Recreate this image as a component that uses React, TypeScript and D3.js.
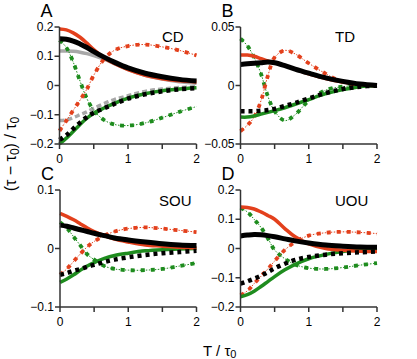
import React from "react";
import * as d3 from "d3";

const T = [0, 0.1, 0.2, 0.3, 0.4, 0.5, 0.65, 0.8, 1.0, 1.25, 1.5, 1.75, 2.0];

// Panel A (CD)
const aRedSolid = [0.193, 0.19, 0.18, 0.165, 0.145, 0.123, 0.095, 0.075, 0.054, 0.035, 0.023, 0.016, 0.012];
const aBlackSolid = [0.16, 0.158, 0.152, 0.142, 0.13, 0.116, 0.097, 0.08, 0.06, 0.042, 0.03, 0.021, 0.015];
const aGreySolid = [0.118, 0.118, 0.117, 0.114, 0.109, 0.102, 0.09, 0.075, 0.055, 0.035, 0.022, 0.013, 0.008];
const aRedDashDot = [-0.155, -0.12, -0.085, -0.05, -0.012, 0.035, 0.09, 0.12, 0.135, 0.14, 0.132, 0.12, 0.103];
const aGreenDashDot = [0.155, 0.13, 0.08, 0.015, -0.045, -0.085, -0.118, -0.133, -0.137, -0.128, -0.11, -0.09, -0.072];
const aBlackDotted = [-0.186, -0.17, -0.148, -0.127, -0.108, -0.093, -0.078, -0.063, -0.045, -0.03, -0.02, -0.013, -0.009];
const aGreenSolid = [-0.2, -0.18, -0.157, -0.133, -0.112, -0.095, -0.077, -0.061, -0.043, -0.028, -0.018, -0.012, -0.008];
const aGreyDashed = [-0.12, -0.118, -0.11, -0.1, -0.09, -0.078, -0.062, -0.048, -0.035, -0.02, -0.012, -0.007, -0.004];

// Panel B (TD)
const bRedSolid = [0.026, 0.026, 0.025, 0.023, 0.021, 0.0195, 0.017, 0.014, 0.01, 0.006, 0.003, 0.001, 0];
const bBlackSolid = [0.018, 0.0185, 0.019, 0.0195, 0.02, 0.0195, 0.017, 0.014, 0.0105, 0.0065, 0.0035, 0.0012, 0];
const bRedDashDot = [-0.039, -0.034, -0.027, -0.013, 0.008, 0.024, 0.03, 0.027, 0.019, 0.01, 0.003, 0.0005, 0];
const bGreenDashDot = [0.04, 0.034, 0.024, 0.01, -0.009, -0.022, -0.03, -0.025, -0.013, -0.004, -0.001, 0, 0];
const bBlackDotted = [-0.022, -0.022, -0.022, -0.0215, -0.021, -0.02, -0.0175, -0.015, -0.011, -0.0065, -0.003, -0.001, 0];
const bGreenSolid = [-0.027, -0.027, -0.026, -0.0245, -0.023, -0.0215, -0.019, -0.016, -0.012, -0.007, -0.0035, -0.001, 0];

// Panel C (SOU)
const cRedSolid = [0.06, 0.055, 0.049, 0.042, 0.035, 0.029, 0.022, 0.016, 0.011, 0.006, 0.004, 0.002, 0.001];
const cBlackSolid = [0.04, 0.038, 0.035, 0.032, 0.029, 0.026, 0.022, 0.018, 0.0145, 0.011, 0.008, 0.006, 0.005];
const cRedDashDot = [-0.045, -0.035, -0.022, -0.009, 0.003, 0.012, 0.022, 0.029, 0.034, 0.036, 0.034, 0.031, 0.028];
const cGreenDashDot = [0.045, 0.035, 0.02, 0.005, -0.01, -0.019, -0.03, -0.035, -0.037, -0.037, -0.035, -0.03, -0.025];
const cBlackDotted = [-0.045, -0.042, -0.038, -0.035, -0.031, -0.028, -0.023, -0.019, -0.015, -0.011, -0.008, -0.006, -0.004];
const cGreenSolid = [-0.058, -0.052, -0.045, -0.037, -0.03, -0.024, -0.017, -0.012, -0.008, -0.004, -0.002, -0.001, 0];

// Panel D (UOU)
const dRedSolid = [0.142, 0.14, 0.135, 0.125, 0.113, 0.1, 0.068, 0.04, 0.016, 0.0, -0.006, -0.009, -0.01];
const dBlackSolid = [0.043, 0.046, 0.048, 0.047, 0.044, 0.04, 0.033, 0.026, 0.019, 0.012, 0.008, 0.005, 0.004];
const dRedDashDot = [-0.16, -0.145, -0.12, -0.095, -0.07, -0.043, -0.005, 0.022, 0.044, 0.054, 0.057, 0.055, 0.051];
const dGreenDashDot = [0.14, 0.125, 0.1, 0.072, 0.035, -0.005, -0.035, -0.055, -0.067, -0.07, -0.065, -0.057, -0.05];
const dBlackDotted = [-0.12, -0.112, -0.103, -0.093, -0.081, -0.068, -0.052, -0.039, -0.029, -0.021, -0.016, -0.013, -0.01];
const dGreenSolid = [-0.165, -0.158, -0.146, -0.13, -0.113, -0.096, -0.073, -0.054, -0.035, -0.02, -0.01, -0.004, 0];

const xTicks = [0, 0.5, 1, 1.5, 2];
const xTickLabels = ["0", "", "1", "", "2"];
const yTicksA = [-0.2, -0.1, 0, 0.1, 0.2];
const yTickLabelsA = ["\u22120.2", "\u22120.1", "0", "0.1", "0.2"];
const yTicksB = [-0.05, 0, 0.05];
const yTickLabelsB = ["\u22120.05", "0", "0.05"];
const yTicksC = [-0.1, 0, 0.1];
const yTickLabelsC = ["\u22120.1", "0", "0.1"];
const yTicksD = [-0.2, -0.1, 0, 0.1, 0.2];
const yTickLabelsD = ["\u22120.2", "\u22120.1", "0", "0.1", "0.2"];

const RED = "#e3401c";
const GREEN = "#1e8c1e";
const GREY = "#a8a8a8";
const BLACK = "#000";
const AXIS = "#333";
const FONT = "'Liberation Sans', Arial, Helvetica, sans-serif";

type Series = { v: number[]; kind: string };

type PanelProps = {
  x0: number; x1: number; y0: number; y1: number;
  yDomain: [number, number];
  yTicks: number[]; yLabels: string[];
  letter: string; name: string; nameX: number; nameY: number;
  series: Series[];
};

function Panel(p: PanelProps) {
  const xs = d3.scaleLinear().domain([0, 2]).range([p.x0, p.x1]);
  const ys = d3.scaleLinear().domain(p.yDomain).range([p.y1, p.y0]);
  const line = d3.line<number>()
    .x((_, i) => xs(T[i]))
    .y((d) => ys(d))
    .curve(d3.curveCatmullRom.alpha(0.5));

  const renderSeries = (s: Series, i: number) => {
    const d = line(s.v) || "";
    switch (s.kind) {
      case "greySolid":
        return <path key={i} d={d} fill="none" stroke={GREY} strokeWidth={3.5} />;
      case "greyDashed":
        return <path key={i} d={d} fill="none" stroke={GREY} strokeWidth={3.5} strokeDasharray="5 3" />;
      case "redSolid":
        return <path key={i} d={d} fill="none" stroke={RED} strokeWidth={3.5} />;
      case "greenSolid":
        return <path key={i} d={d} fill="none" stroke={GREEN} strokeWidth={3.5} />;
      case "blackSolid":
        return <path key={i} d={d} fill="none" stroke={BLACK} strokeWidth={5} />;
      case "blackDotted":
        return <path key={i} d={d} fill="none" stroke={BLACK} strokeWidth={4.5} strokeDasharray="4 4" />;
      case "redDashDot":
      case "greenDashDot": {
        const c = s.kind === "redDashDot" ? RED : GREEN;
        return (
          <g key={i}>
            <path d={d} fill="none" stroke={c} strokeWidth={1} strokeDasharray="1.5 1.5" />
            <path d={d} fill="none" stroke={c} strokeWidth={3.8} strokeDasharray="4 6" />
          </g>
        );
      }
    }
    return null;
  };

  return (
    <g>
      {p.series.map(renderSeries)}
      <line x1={p.x0} x2={p.x0} y1={p.y0} y2={p.y1} stroke={AXIS} strokeWidth={1.5} />
      <line x1={p.x0} x2={p.x1} y1={p.y1} y2={p.y1} stroke={AXIS} strokeWidth={1.5} />
      {p.yTicks.map((t, i) => (
        <g key={"y" + i}>
          <line x1={p.x0 - 5} x2={p.x0} y1={ys(t)} y2={ys(t)} stroke={AXIS} strokeWidth={1.5} />
          <text x={p.x0 - 6} y={ys(t) + 4} textAnchor="end" fontSize={12} fontFamily={FONT} fill="#000">
            {p.yLabels[i]}
          </text>
        </g>
      ))}
      {xTicks.map((t, i) => (
        <g key={"x" + i}>
          <line x1={xs(t)} x2={xs(t)} y1={p.y1} y2={p.y1 + 5} stroke={AXIS} strokeWidth={1.5} />
          <text x={xs(t)} y={p.y1 + 19} textAnchor="middle" fontSize={12} fontFamily={FONT} fill="#000">
            {xTickLabels[i]}
          </text>
        </g>
      ))}
      <text x={p.x0 - 19} y={p.y0 - 10} fontSize={18} fontFamily={FONT} fill="#000">{p.letter}</text>
      <text x={p.nameX} y={p.nameY} fontSize={15} fontFamily={FONT} fill="#000">{p.name}</text>
    </g>
  );
}

export default function App() {
  const order = (gs: number[] | null, gd: number[] | null, gdd: number[], rdd: number[], gsol: number[], rs: number[], bd: number[], bs: number[]): Series[] => {
    const out: Series[] = [];
    if (gs) out.push({ v: gs, kind: "greySolid" });
    if (gd) out.push({ v: gd, kind: "greyDashed" });
    out.push({ v: gdd, kind: "greenDashDot" });
    out.push({ v: rdd, kind: "redDashDot" });
    out.push({ v: gsol, kind: "greenSolid" });
    out.push({ v: rs, kind: "redSolid" });
    out.push({ v: bd, kind: "blackDotted" });
    out.push({ v: bs, kind: "blackSolid" });
    return out;
  };

  return (
    <svg width={417} height={359} style={{ position: "absolute", left: 0, top: 0, background: "#fff" }}>
      <Panel x0={59.5} x1={196.5} y0={27} y1={144} yDomain={[-0.2, 0.2]} yTicks={yTicksA} yLabels={yTickLabelsA}
        letter="A" name="CD" nameX={162} nameY={42}
        series={order(aGreySolid, aGreyDashed, aGreenDashDot, aRedDashDot, aGreenSolid, aRedSolid, aBlackDotted, aBlackSolid)} />
      <Panel x0={240.5} x1={377} y0={27} y1={144} yDomain={[-0.05, 0.05]} yTicks={yTicksB} yLabels={yTickLabelsB}
        letter="B" name="TD" nameX={335} nameY={42}
        series={order(null, null, bGreenDashDot, bRedDashDot, bGreenSolid, bRedSolid, bBlackDotted, bBlackSolid)} />
      <Panel x0={60} x1={196.5} y0={190} y1={307} yDomain={[-0.1, 0.1]} yTicks={yTicksC} yLabels={yTickLabelsC}
        letter="C" name="SOU" nameX={159} nameY={206}
        series={order(null, null, cGreenDashDot, cRedDashDot, cGreenSolid, cRedSolid, cBlackDotted, cBlackSolid)} />
      <Panel x0={240.5} x1={377} y0={190} y1={307} yDomain={[-0.2, 0.2]} yTicks={yTicksD} yLabels={yTickLabelsD}
        letter="D" name="UOU" nameX={335} nameY={206}
        series={order(null, null, dGreenDashDot, dRedDashDot, dGreenSolid, dRedSolid, dBlackDotted, dBlackSolid)} />
      <text transform="translate(16,154) rotate(-90)" textAnchor="middle" fontSize={16} fontFamily={FONT} fill="#000">
        (τ − τ<tspan fontSize={12} dy={3}>0</tspan><tspan dy={-3}>) / τ</tspan><tspan fontSize={12} dy={3}>0</tspan>
      </text>
      <text x={203} y={356} fontSize={15} fontFamily={FONT} fill="#000">
        T / τ<tspan fontSize={11} dy={2}>0</tspan>
      </text>
    </svg>
  );
}
